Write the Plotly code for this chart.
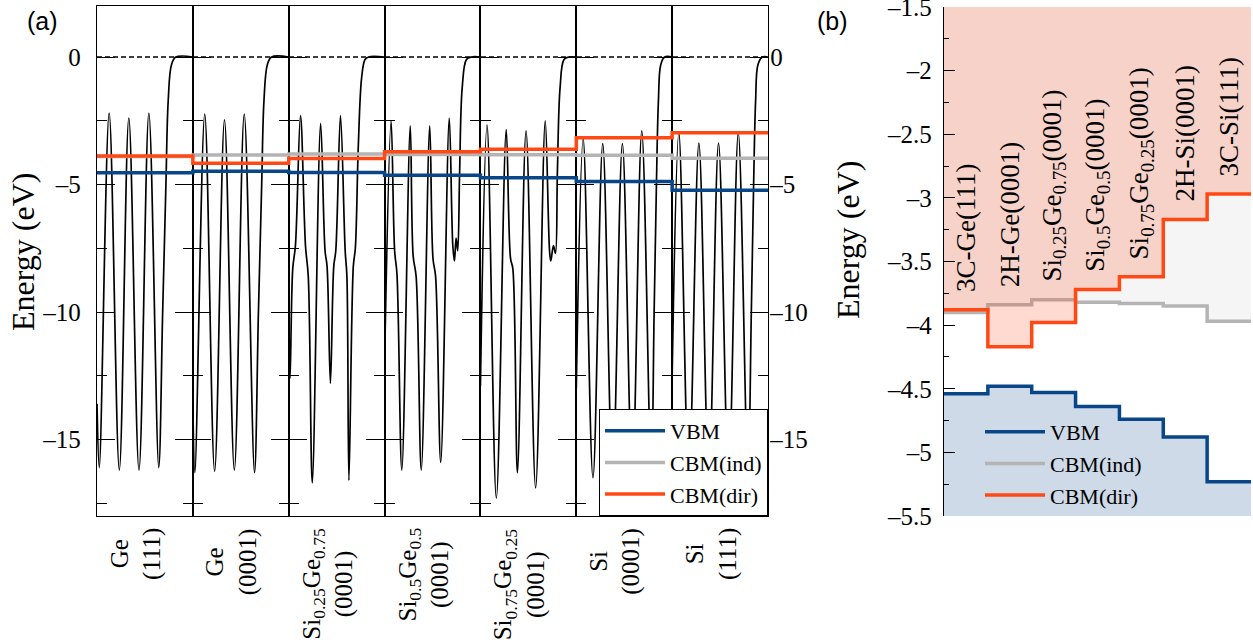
import plotly.graph_objects as go

FIG_W, FIG_H = 1253, 644
SERIF = "Liberation Serif"
SANS = "Liberation Sans"

# ---------------- data ----------------
COLUMN_LABELS = [
    "Ge<br>(111)",
    "Ge<br>(0001)",
    "Si<sub>0.25</sub>Ge<sub>0.75</sub><br>(0001)",
    "Si<sub>0.5</sub>Ge<sub>0.5</sub><br>(0001)",
    "Si<sub>0.75</sub>Ge<sub>0.25</sub><br>(0001)",
    "Si<br>(0001)",
    "Si<br>(111)",
]
B_LABELS = [
    "3C-Ge(111)",
    "2H-Ge(0001)",
    "Si<sub>0.25</sub>Ge<sub>0.75</sub>(0001)",
    "Si<sub>0.5</sub>Ge<sub>0.5</sub>(0001)",
    "Si<sub>0.75</sub>Ge<sub>0.25</sub>(0001)",
    "2H-Si(0001)",
    "3C-Si(111)",
]

VBM = [-4.54, -4.48, -4.53, -4.64, -4.74, -4.88, -5.23]
CBM_IND = [-3.90, -3.84, -3.80, -3.82, -3.83, -3.85, -3.97]
CBM_DIR = [-3.88, -4.17, -3.98, -3.72, -3.62, -3.17, -2.97]

# plane-averaged potential profiles: position within the cell (0..1) and energy (eV)
POT_POS = [
    [0, 0.024, 0.127, 0.233, 0.332, 0.438, 0.541, 0.644, 0.685, 0.719, 0.743, 0.777, 0.822, 1.0],
    [0, 0.021, 0.124, 0.227, 0.330, 0.433, 0.536, 0.643, 0.684, 0.718, 0.742, 0.777, 0.821, 1.0],
    [0, 0.014, 0.042, 0.070, 0.123, 0.175, 0.204, 0.246, 0.333, 0.379, 0.400, 0.435, 0.470, 0.491,
     0.540, 0.589, 0.607, 0.628, 0.674, 0.695, 0.726, 0.761, 0.796, 0.832, 1.0],
    [0, 0.068, 0.105, 0.129, 0.180, 0.268, 0.298, 0.329, 0.383, 0.471, 0.505, 0.532, 0.586, 0.675,
     0.712, 0.729, 0.746, 0.763, 0.783, 0.810, 0.854, 0.905, 1.0],
    [0, 0.069, 0.166, 0.269, 0.314, 0.338, 0.386, 0.476, 0.576, 0.676, 0.721, 0.734, 0.762, 0.783,
     0.803, 0.831, 0.872, 0.925, 1.0],
    [0, 0.072, 0.174, 0.276, 0.379, 0.481, 0.584, 0.683, 0.782, 0.812, 0.836, 0.857, 0.881, 0.922, 1.0],
    [0, 0.070, 0.174, 0.279, 0.383, 0.484, 0.589, 0.690, 0.791, 0.826, 0.850, 0.871, 0.895, 0.941, 1.0],
]
POT_E = [
    [-13.6, -16.1, -2.2, -16.2, -2.4, -16.2, -2.2, -16.1, -10.0, -5.0, -1.7, -0.3, 0.0, 0.0],
    [-13.6, -16.3, -2.24, -16.25, -2.46, -16.2, -2.24, -16.3, -10.0, -5.0, -1.7, -0.3, 0.0, 0.0],
    [-9.1, -12.6, -8.3, -7.4, -2.3, -7.4, -8.6, -16.7, -2.6, -7.6, -8.2, -12.8, -8.2, -7.6,
     -2.3, -7.6, -8.6, -16.6, -8.2, -7.5, -3.5, -0.8, -0.1, 0.0, 0.0],
    [-12.0, -2.5, -7.6, -8.5, -16.2, -2.7, -7.8, -8.6, -16.2, -2.7, -7.9, -8.6, -15.9, -2.4,
     -7.4, -8.0, -7.1, -7.6, -4.5, -1.2, -0.1, 0.0, 0.0],
    [-12.9, -2.66, -17.3, -2.85, -7.9, -8.3, -16.3, -2.9, -16.9, -2.5, -7.6, -8.0, -7.4, -7.7,
     -4.5, -1.2, -0.1, 0.0, 0.0],
    [-13.0, -3.2, -16.5, -3.4, -16.5, -3.4, -16.5, -2.9, -16.5, -10.0, -5.0, -1.7, -0.3, 0.0, 0.0],
    [-12.5, -2.96, -16.5, -3.38, -16.5, -3.38, -16.5, -2.96, -16.5, -10.0, -5.0, -1.7, -0.3, 0.0, 0.0],
]

VACUUM_LEVEL = 0.0
A_YRANGE = [-18, 2]
A_YTICKS = [-15, -10, -5, 0]
A_YTICKTEXT = ["–15", "–10", "–5", "0"]
B_YRANGE = [-5.5, -1.5]
B_YTICKS = [-5.5, -5, -4.5, -4, -3.5, -3, -2.5, -2, -1.5]
B_YTICKTEXT = ["–5.5", "–5", "–4.5", "–4", "–3.5", "–3", "–2.5", "–2", "–1.5"]

# ---------------- style ----------------
C_VBM = "rgb(8,70,135)"
C_VBM_FILL = "rgba(8,70,135,0.2)"
C_IND = "rgb(180,180,180)"
C_IND_FILL = "rgba(0,0,0,0.04)"
C_DIR = "rgb(255,72,20)"
C_DIR_FILL = "rgba(255,72,20,0.2)"
STEP_W = 3.5
LABEL_GAP = 0.1

def px_x(p):
    return p / FIG_W

def px_y(p):
    return 1 - p / FIG_H

A_L, A_R, A_T, A_B = 97, 768, 6, 516
B_L, B_R, B_T, B_B = 944, 1251, 7, 516
n = len(COLUMN_LABELS)
colw = (A_R - A_L) / n

fig = go.Figure()
layout = dict(
    width=FIG_W, height=FIG_H,
    margin=dict(l=0, r=0, t=0, b=0, autoexpand=False),
    paper_bgcolor="white", plot_bgcolor="rgba(0,0,0,0)",
    font=dict(family=SERIF, size=25, color="black"),
    showlegend=True,
)

for i in range(n):
    sfx = "" if i == 0 else str(i + 1)
    layout["xaxis" + sfx] = dict(
        domain=[px_x(A_L + i * colw), px_x(A_L + (i + 1) * colw)], range=[0, 1],
        anchor="y" + sfx, showline=True, linecolor="black", linewidth=1.3, mirror=True,
        ticks="", showticklabels=False, showgrid=False, zeroline=False, automargin=False)
    standoff = 10 if i == 0 else -4
    layout["yaxis" + sfx] = dict(
        domain=[px_y(A_B), px_y(A_T)], range=A_YRANGE, anchor="x" + sfx,
        showline=True, linecolor="black", linewidth=1.3, mirror="ticks",
        ticks="inside", ticklen=18, tickwidth=1.3, tickcolor="black",
        tickmode="array", tickvals=A_YTICKS, ticktext=A_YTICKTEXT,
        showticklabels=(i == 0 or i == n - 1), side="right" if i == n - 1 else "left",
        ticklabelstandoff=standoff,
        minor=dict(ticks="inside", ticklen=10, tickwidth=1.3, tickcolor="black", dtick=2.5, tick0=0),
        tickfont=dict(family=SERIF, size=25), ticklabeloverflow="allow",
        showgrid=False, zeroline=False, automargin=False)
    fig.add_trace(go.Scatter(
        x=POT_POS[i], y=POT_E[i], xaxis="x" + sfx, yaxis="y" + sfx, mode="lines",
        line=dict(color="black", width=1.7, shape="spline", smoothing=1.0),
        showlegend=False, hoverinfo="skip"))

# overlay axis spanning the whole panel (a)
layout["xaxis8"] = dict(domain=[px_x(A_L), px_x(A_R)], range=[0, n], anchor="y",
                        visible=False, showgrid=False, zeroline=False, automargin=False)
xs = list(range(n + 1))
fig.add_trace(go.Scatter(x=[0, n], y=[VACUUM_LEVEL, VACUUM_LEVEL], xaxis="x8", yaxis="y",
                         mode="lines", line=dict(color="black", width=1.5, dash="5px,3px"),
                         showlegend=False, hoverinfo="skip"))
for name, vals, col in [("VBM", VBM, C_VBM), ("CBM(ind)", CBM_IND, C_IND), ("CBM(dir)", CBM_DIR, C_DIR)]:
    fig.add_trace(go.Scatter(x=xs, y=vals + [vals[-1]], xaxis="x8", yaxis="y", mode="lines",
                             line=dict(color=col, width=STEP_W, shape="hv"), name=name,
                             legend="legend", hoverinfo="skip"))

# ---------------- panel (b) ----------------
layout["xaxis9"] = dict(domain=[px_x(B_L), px_x(B_R)], range=[0, n], anchor="y9",
                        visible=False, showgrid=False, zeroline=False, automargin=False)
layout["yaxis9"] = dict(domain=[px_y(B_B), px_y(B_T)], range=B_YRANGE, anchor="x9",
                        showline=True, linecolor="black", linewidth=1.3, mirror=False,
                        ticks="inside", ticklen=11, tickwidth=1.3, tickcolor="black",
                        tickmode="array", tickvals=B_YTICKS, ticktext=B_YTICKTEXT,
                        ticklabelstandoff=6,
                        minor=dict(ticks="inside", ticklen=5, tickwidth=1.3, tickcolor="black",
                                   dtick=0.25, tick0=-5.5),
                        tickfont=dict(family=SERIF, size=25), ticklabeloverflow="allow",
                        showgrid=False, zeroline=False, automargin=False)

bottom = [B_YRANGE[0]] * (n + 1)
top = [B_YRANGE[1]] * (n + 1)

def tr(y, **kw):
    d = dict(x=xs, y=y, xaxis="x9", yaxis="y9", mode="lines", hoverinfo="skip", showlegend=False)
    d.update(kw)
    return go.Scatter(**d)

fig.add_trace(tr(bottom, line=dict(width=0, shape="hv")))
fig.add_trace(tr(VBM + [VBM[-1]], line=dict(width=0, shape="hv"), fill="tonexty", fillcolor=C_VBM_FILL))
fig.add_trace(tr(CBM_IND + [CBM_IND[-1]], line=dict(width=0, shape="hv")))
fig.add_trace(tr(top, line=dict(width=0, shape="hv"), fill="tonexty", fillcolor=C_IND_FILL))
fig.add_trace(tr(CBM_IND + [CBM_IND[-1]], line=dict(color=C_IND, width=STEP_W, shape="hv"),
                 showlegend=True, name="CBM(ind)", legend="legend2", legendrank=2))
fig.add_trace(tr(CBM_DIR + [CBM_DIR[-1]], line=dict(width=0, shape="hv")))
fig.add_trace(tr(top, line=dict(width=0, shape="hv"), fill="tonexty", fillcolor=C_DIR_FILL))
fig.add_trace(tr(CBM_DIR + [CBM_DIR[-1]], line=dict(color=C_DIR, width=STEP_W, shape="hv"),
                 showlegend=True, name="CBM(dir)", legend="legend2", legendrank=3))
fig.add_trace(tr(VBM + [VBM[-1]], line=dict(color=C_VBM, width=STEP_W, shape="hv"),
                 showlegend=True, name="VBM", legend="legend2", legendrank=1))

# ---------------- legends ----------------
layout["legend"] = dict(x=px_x(A_R), xanchor="right", y=px_y(A_B), yanchor="bottom",
                        bgcolor="white", bordercolor="black", borderwidth=1,
                        font=dict(family=SERIF, size=22), itemwidth=60, traceorder="normal")
layout["legend2"] = dict(x=px_x(980), xanchor="left", y=px_y(A_B), yanchor="bottom",
                         bgcolor="rgba(0,0,0,0)", borderwidth=0,
                         font=dict(family=SERIF, size=22), itemwidth=60, traceorder="normal")

# ---------------- annotations ----------------
ann = []
for i, lab in enumerate(COLUMN_LABELS):
    ann.append(dict(text=lab, x=i + 0.5, xref="x8", y=px_y(526), yref="paper",
                    xanchor="center", yanchor="top", textangle=-90, align="center",
                    showarrow=False, xshift=-9, font=dict(family=SERIF, size=25)))
for i, lab in enumerate(B_LABELS):
    ann.append(dict(text=lab, x=i + 0.5, xref="x9", y=max(CBM_DIR[i], CBM_IND[i]) + LABEL_GAP,
                    yref="y9", xanchor="center", yanchor="bottom", textangle=-90, yshift=3,
                    showarrow=False, font=dict(family=SERIF, size=27)))
ann.append(dict(text="Energy (eV)", x=px_x(23), y=px_y(252), xref="paper", yref="paper",
                xanchor="center", yanchor="middle",
                textangle=-90, showarrow=False, font=dict(family=SERIF, size=32)))
ann.append(dict(text="Energy (eV)", x=px_x(848), y=px_y(240), xref="paper", yref="paper",
                xanchor="center", yanchor="middle",
                textangle=-90, showarrow=False, font=dict(family=SERIF, size=32)))
ann.append(dict(text="(a)", x=px_x(42), y=px_y(21), xref="paper", yref="paper",
                xanchor="center", yanchor="middle",
                showarrow=False, font=dict(family=SANS, size=25)))
ann.append(dict(text="(b)", x=px_x(832), y=px_y(21), xref="paper", yref="paper",
                xanchor="center", yanchor="middle",
                showarrow=False, font=dict(family=SANS, size=25)))
layout["annotations"] = ann

fig.update_layout(**layout)
fig.write_html("out.html", config={"displayModeBar": False},
               post_script="document.body.style.margin='0';document.body.style.overflow='hidden';")
